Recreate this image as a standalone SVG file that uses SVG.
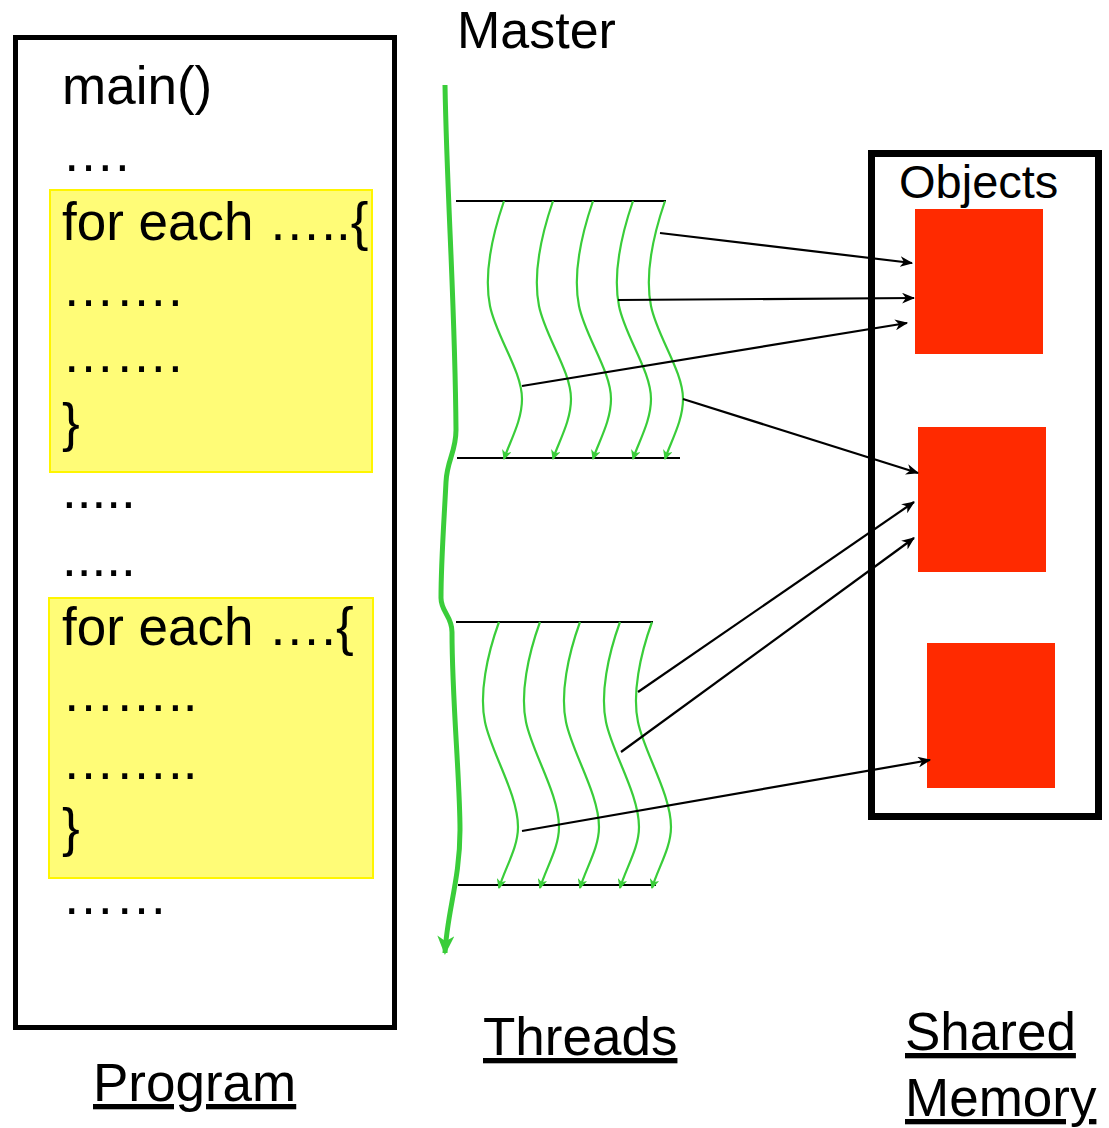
<svg xmlns="http://www.w3.org/2000/svg" xmlns:xlink="http://www.w3.org/1999/xlink" width="1109" height="1128" viewBox="0 0 1109 1128">
  <style>
    text { font-family: "Liberation Sans", Arial, sans-serif; fill: #000; }
    .code { font-size: 53px; }
    .label { font-size: 53px; text-decoration: underline; }
    .box { fill: #fff; stroke: #000; }
    .loop { fill: #FFFC77; stroke: #FFF500; stroke-width: 2; }
    .obj { fill: #FF2A00; }
    .bar { stroke: #000; stroke-width: 2.2; }
    .thread { fill: none; stroke: #3ACD3A; stroke-width: 2.2; marker-end: url(#gtip); }
    .link { stroke: #000; stroke-width: 2.2; fill: none; marker-end: url(#ktip); }
  </style>
  <defs>
    <marker id="ktip" viewBox="0 0 12 10" refX="11" refY="5" markerWidth="13" markerHeight="11" markerUnits="userSpaceOnUse" orient="auto">
      <path d="M0,0 L12,5 L0,10 L3.5,5 z" fill="#000"/>
    </marker>
    <marker id="gtip" viewBox="0 0 10 10" refX="9" refY="5" markerWidth="11" markerHeight="10" markerUnits="userSpaceOnUse" orient="auto">
      <path d="M0,0 L10,5 L0,10 L3,5 z" fill="#3ACD3A"/>
    </marker>
    <marker id="mtip" viewBox="0 0 18 16" refX="16" refY="8" markerWidth="20" markerHeight="17" markerUnits="userSpaceOnUse" orient="auto">
      <path d="M0,0 L18,8 L0,16 L5,8 z" fill="#3ACD3A"/>
    </marker>
    <!-- one wavy thread, drawn from its start at (0,0) -->
    <path id="wave1" class="thread" d="M0,0 C-12,35 -20,75 -14,105 C-8,135 18,170 18,198 C18,220 6,240 0,258"/>
    <path id="wave2" class="thread" d="M0,0 C-12,33 -20,72 -14,100 C-8,130 19,172 19,205 C19,226 6,246 0,266"/>
  </defs>

  <!-- program listing -->
  <g id="program">
    <rect class="box" x="15.5" y="37.5" width="379" height="990" stroke-width="5"/>
    <rect class="loop" x="50" y="190" width="322" height="282"/>
    <rect class="loop" x="49" y="598" width="324" height="280"/>
    <text class="code" x="62" y="104">main()</text>
    <text class="code" x="62" y="171">….</text>
    <text class="code" x="62" y="240">for each …..{</text>
    <text class="code" x="62" y="306">…….</text>
    <text class="code" x="62" y="372">…….</text>
    <text class="code" x="62" y="441">}</text>
    <text class="code" x="62" y="508">.....</text>
    <text class="code" x="62" y="576">.....</text>
    <text class="code" x="62" y="645">for each ….{</text>
    <text class="code" x="62" y="711">……..</text>
    <text class="code" x="62" y="779">……..</text>
    <text class="code" x="62" y="846">}</text>
    <text class="code" x="62" y="914">……</text>
    <text class="label" x="93" y="1101">Program</text>
  </g>

  <!-- master thread -->
  <g id="master">
    <text x="457" y="48" font-size="52">Master</text>
    <path d="M445,85 C447,200 455,300 456,430 C456,452 447,460 446,482 C444,522 441,562 441,598 C441,612 452,616 452,632 C452,700 460,780 460,830 C460,880 447,912 445,953" fill="none" stroke="#3ACD3A" stroke-width="5" marker-end="url(#mtip)"/>
  </g>

  <!-- first parallel region -->
  <g id="threads-1">
    <line class="bar" x1="456" y1="201" x2="666" y2="201"/>
    <line class="bar" x1="457" y1="458" x2="680" y2="458"/>
    <use xlink:href="#wave1" x="504" y="201"/>
    <use xlink:href="#wave1" x="553" y="201"/>
    <use xlink:href="#wave1" x="593" y="201"/>
    <use xlink:href="#wave1" x="633" y="201"/>
    <use xlink:href="#wave1" x="665" y="201"/>
  </g>

  <!-- second parallel region -->
  <g id="threads-2">
    <line class="bar" x1="456" y1="622" x2="653" y2="622"/>
    <line class="bar" x1="458" y1="885" x2="656" y2="885"/>
    <use xlink:href="#wave2" x="499" y="622"/>
    <use xlink:href="#wave2" x="540" y="622"/>
    <use xlink:href="#wave2" x="580" y="622"/>
    <use xlink:href="#wave2" x="620" y="622"/>
    <use xlink:href="#wave2" x="652" y="622"/>
    <text class="label" x="483" y="1055">Threads</text>
  </g>

  <!-- shared memory with objects -->
  <g id="shared-memory">
    <rect class="box" x="871.5" y="153.5" width="227" height="663" stroke-width="7"/>
    <text x="899" y="198" font-size="47">Objects</text>
    <rect class="obj" x="915" y="209" width="128" height="145"/>
    <rect class="obj" x="918" y="427" width="128" height="145"/>
    <rect class="obj" x="927" y="643" width="128" height="145"/>
    <text class="label" x="905" y="1050">Shared</text>
    <text class="label" x="905" y="1116">Memory</text>
  </g>

  <!-- accesses from threads to objects -->
  <g id="connectors">
    <line class="link" x1="660" y1="233" x2="912" y2="263"/>
    <line class="link" x1="618" y1="300" x2="914" y2="298"/>
    <line class="link" x1="522" y1="386" x2="907" y2="323"/>
    <line class="link" x1="683" y1="399" x2="918" y2="473"/>
    <line class="link" x1="638" y1="692" x2="914" y2="502"/>
    <line class="link" x1="621" y1="752" x2="914" y2="538"/>
    <line class="link" x1="522" y1="831" x2="930" y2="760"/>
  </g>
</svg>
